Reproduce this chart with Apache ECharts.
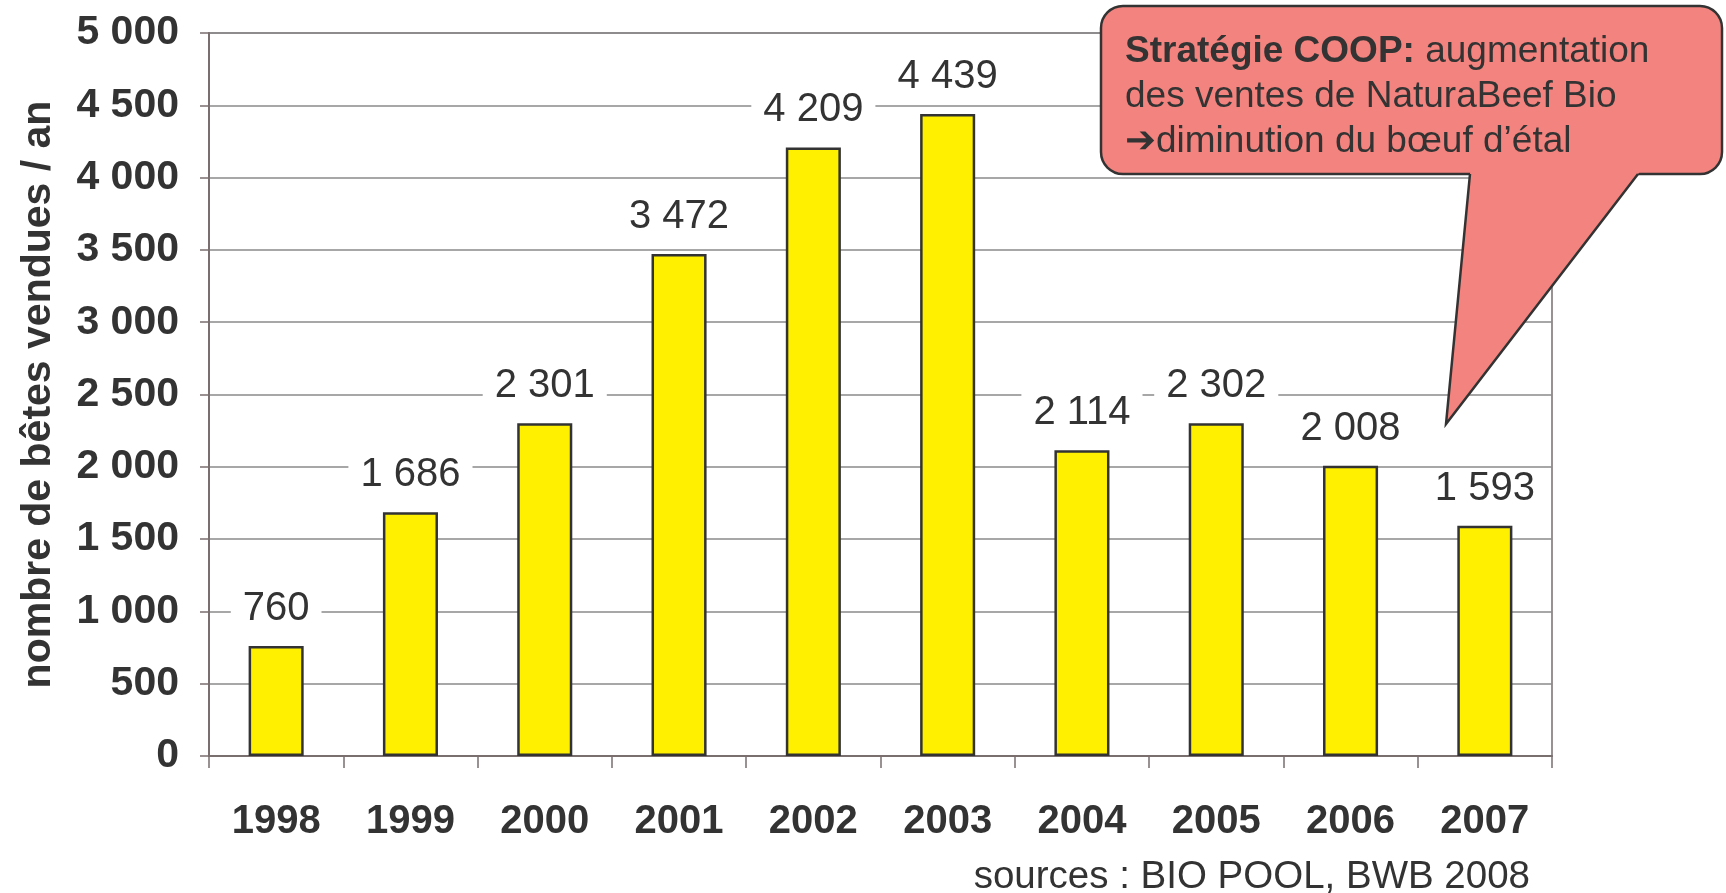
<!DOCTYPE html>
<html>
<head>
<meta charset="utf-8">
<script src="https://cdn.jsdelivr.net/npm/echarts@6/dist/echarts.min.js"></script>
<style>
html,body{margin:0;padding:0;background:#fff;}
#c{width:1726px;height:893px;}
</style>
</head>
<body>
<div id="c"></div>
<script>
const years = ['1998','1999','2000','2001','2002','2003','2004','2005','2006','2007'];
const ventes = [760, 1686, 2301, 3472, 4209, 4439, 2114, 2302, 2008, 1593];
const yTicks = [0, 500, 1000, 1500, 2000, 2500, 3000, 3500, 4000, 4500, 5000];
const axisTitle = 'nombre de bêtes vendues / an';
const sourceText = 'sources : BIO POOL, BWB 2008';
const calloutBold = 'Stratégie COOP:';
const calloutLines = [' augmentation', 'des ventes de NaturaBeef Bio', '➔diminution du bœuf d’étal'];

function fmt(v){
  v = Math.round(v);
  if (v < 1000) return String(v);
  const t = Math.floor(v/1000), r = v % 1000;
  return t + ' ' + String(r).padStart(3,'0');
}

const FONT = '"Liberation Sans", Arial, Helvetica, sans-serif';
const chart = echarts.init(document.getElementById('c'), null, {renderer:'canvas'});

// callout geometry (style only)
const R = {x:1101, y:6, w:621, h:168};
const bL = 1470, bR = 1638, tip = [1446, 424];
const by = R.y + R.h;
function onEdge(x0, y0, x1, y1, y){ return x0 + (x1-x0)*(y-y0)/(y1-y0); }
const cy = by - 5;

chart.setOption({
  animation:false,
  backgroundColor:'#fff',
  grid:{left:209, right:174, top:33, bottom:137, show:true, borderColor:'#7a6f6f', borderWidth:1.5, backgroundColor:'transparent'},
  xAxis:{
    type:'category', data:years, boundaryGap:true,
    axisLine:{lineStyle:{color:'#7a6f6f', width:2}},
    axisTick:{show:true, inside:false, length:12, lineStyle:{color:'#7a6f6f', width:1.5}},
    axisLabel:{fontFamily:FONT, fontSize:40, fontWeight:'bold', color:'#333', margin:46}
  },
  yAxis:{
    type:'value', min:yTicks[0], max:yTicks[yTicks.length-1], interval:yTicks[1]-yTicks[0],
    name:axisTitle, nameLocation:'middle', nameGap:150, nameRotate:90,
    nameTextStyle:{fontFamily:FONT, fontSize:41, fontWeight:'bold', color:'#333'},
    axisLine:{show:true, lineStyle:{color:'#7a6f6f', width:2}},
    axisTick:{show:true, inside:false, length:9, lineStyle:{color:'#7a6f6f', width:1.5}},
    axisLabel:{fontFamily:FONT, fontSize:41, fontWeight:'bold', color:'#333', margin:30, formatter:fmt},
    splitLine:{show:true, lineStyle:{color:'#8a8a8a', width:1.5}}
  },
  series:[{
    type:'bar', data:ventes, barWidth:'41%',
    itemStyle:{color:'#FFF000', borderColor:'#333', borderWidth:2.5},
    label:{show:true, position:'top', distance:17, fontFamily:FONT, fontSize:40, color:'#333',
      backgroundColor:'#fff', padding:[0,12], formatter:p=>fmt(p.value)}
  }],
  graphic:[
    {type:'rect', z:100, shape:{x:R.x, y:R.y, width:R.w, height:R.h, r:22},
      style:{fill:'#F3837E', stroke:'#333', lineWidth:2.5}},
    {type:'polygon', z:101, shape:{points:[[onEdge(bL,by,tip[0],tip[1],cy), cy],[onEdge(bR,by,tip[0],tip[1],cy), cy],tip]},
      style:{fill:'#F3837E', stroke:null}},
    {type:'polyline', z:102, shape:{points:[[bL,by],tip,[bR,by]]},
      style:{fill:null, stroke:'#333', lineWidth:2.5}},
    {type:'text', z:103, left:1125, top:29,
      style:{
        text:'{b|'+calloutBold+'}{r|'+calloutLines[0]+'}\n{r|'+calloutLines[1]+'}\n{r|'+calloutLines[2]+'}',
        rich:{
          b:{fontFamily:FONT, fontSize:37, fontWeight:'bold', fill:'#333', lineHeight:45},
          r:{fontFamily:FONT, fontSize:37, fill:'#333', lineHeight:45}
        },
        fill:'#333', lineHeight:45
      }},
    {type:'text', z:50, right:196, top:858,
      style:{text:sourceText, fontFamily:FONT, fontSize:38.5, fill:'#333'}}
  ]
});
</script>
</body>
</html>
